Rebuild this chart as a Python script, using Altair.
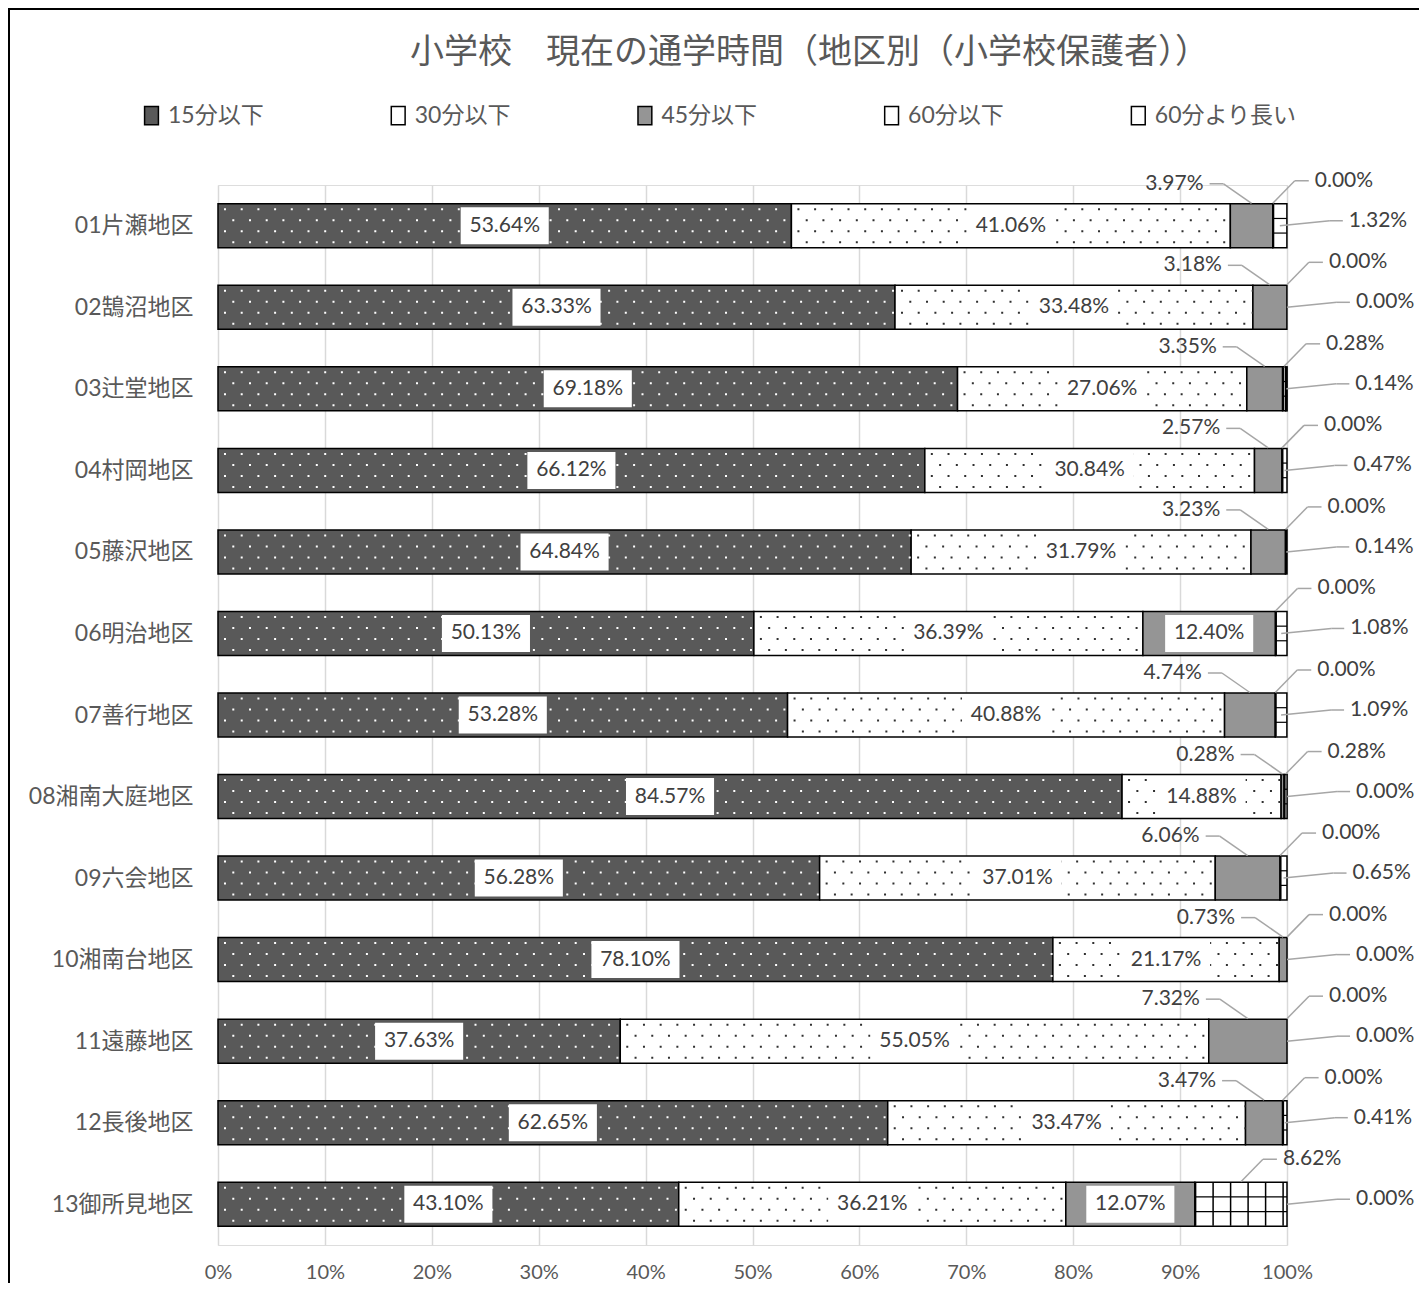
import altair as alt
import pandas as pd

districts = ["01片瀬地区", "02鵠沼地区", "03辻堂地区", "04村岡地区", "05藤沢地区", "06明治地区",
             "07善行地区", "08湘南大庭地区", "09六会地区", "10湘南台地区", "11遠藤地区", "12長後地区",
             "13御所見地区"]
categories = ["15分以下", "30分以下", "45分以下", "60分以下", "60分より長い"]
v15 = [53.64, 63.33, 69.18, 66.12, 64.84, 50.13, 53.28, 84.57, 56.28, 78.10, 37.63, 62.65, 43.10]
v30 = [41.06, 33.48, 27.06, 30.84, 31.79, 36.39, 40.88, 14.88, 37.01, 21.17, 55.05, 33.47, 36.21]
v45 = [3.97, 3.18, 3.35, 2.57, 3.23, 12.40, 4.74, 0.28, 6.06, 0.73, 7.32, 3.47, 12.07]
v60 = [0.00, 0.00, 0.28, 0.00, 0.00, 0.00, 0.00, 0.28, 0.00, 0.00, 0.00, 0.00, 8.62]
v60p = [1.32, 0.00, 0.14, 0.47, 0.14, 1.08, 1.09, 0.00, 0.65, 0.00, 0.00, 0.41, 0.00]
title_text = "小学校　現在の通学時間（地区別（小学校保護者））"

series = [v15, v30, v45, v60, v60p]
rows = []
for i, d in enumerate(districts):
    for k, c in enumerate(categories):
        rows.append({"idx": i, "district": d, "cat": c, "order": k, "value": series[k][i]})
df = pd.DataFrame(rows)

FONT = "Lato, Noto Sans CJK JP"
AXC = "#595959"
LBC = "#404040"
LEAD = "#a6a6a6"

xs = alt.Scale(domain=[0, 100], nice=False, zero=False, padding=0)
ys = alt.Scale(domain=[-0.5, 12.5], reverse=True, nice=False, zero=False, padding=0)
xaxis = alt.Axis(values=list(range(0, 101, 10)), labelExpr="datum.value + '%'", grid=True,
                 gridColor="#d9d9d9", gridWidth=1.5, domain=False, ticks=False, tickSize=0,
                 labelFontSize=20, labelFont=FONT, labelColor=AXC, labelPadding=17,
                 labelFlush=False, title=None)
names_js = "[" + ",".join("'" + d + "'" for d in districts) + "]"
yaxis = alt.Axis(values=list(range(len(districts))), labelExpr=names_js + "[datum.value]",
                 grid=False, domain=False, ticks=False, tickSize=0, labelFontSize=23,
                 labelFont=FONT, labelColor=AXC, labelPadding=25, labelFlush=False, title=None)


def X(f):
    return alt.X(f, type="quantitative", scale=xs, axis=xaxis)


def Y(f="idx"):
    return alt.Y(f, type="quantitative", scale=ys, axis=yaxis)


base = alt.Chart(df).transform_stack(
    stack="value", groupby=["idx"], sort=[alt.SortField("order", order="ascending")], as_=["x0", "x1"]
).transform_calculate(
    xc="(datum.x0 + datum.x1) / 2",
    bl="(datum.x0 + datum.x1) / 2 - 4.12",
    br="(datum.x0 + datum.x1) / 2 + 4.12",
    label="format(datum.value, '.2f') + '%'",
)

fills = ["#595959", "#ffffff", "#959595", "#ffffff", "#ffffff"]

bars = base.transform_filter("datum.value > 0").mark_bar(
    size=44, stroke="black", strokeWidth=1.5
).encode(
    x=X("x0"), x2="x1", y=Y(),
    fill=alt.Fill("cat:N", scale=alt.Scale(domain=categories, range=fills),
                  legend=alt.Legend(orient="none", legendX=-78, legendY=-81, direction="horizontal",
                                    columns=5, gridAlign="all", columnPadding=76.7, title=None,
                                    labelFontSize=23, labelFont=FONT, labelColor=AXC,
                                    symbolType="M-0.75,-1H0.75V1H-0.75Z", symbolSize=340,
                                    symbolStrokeColor="black", symbolStrokeWidth=1.5,
                                    labelOffset=5)),
)

layers = [bars]

# dotted textures
for j, off in enumerate([-16.5, -5.5, 5.5, 16.5]):
    layers.append(
        base.transform_filter("datum.order < 2 && datum.value > 0").mark_rule(
            strokeWidth=2, strokeDash=[2, 14.7], strokeDashOffset=(10.7 if j % 2 == 0 else 2.4),
            yOffset=off
        ).encode(
            x=X("x0"), x2="x1", y=Y(),
            stroke=alt.condition("datum.order == 0", alt.value("white"), alt.value("#303030")),
        )
    )

# grid textures for 60-min segments
grid_src = base.transform_filter("datum.order >= 3 && datum.value > 0")
for off in [-7.3, 7.3]:
    layers.append(grid_src.mark_rule(strokeWidth=1.2, color="black", yOffset=off).encode(
        x=X("x0"), x2="x1", y=Y()))
layers.append(grid_src.mark_rule(strokeWidth=43, color="black", strokeDash=[1.5, 16]).encode(
    x=X("x0"), x2="x1", y=Y()))

# inside label boxes & text
inside = base.transform_filter("datum.order < 2 || (datum.order == 2 && datum.value >= 10)")
layers.append(inside.mark_bar(size=37, fill="white", strokeWidth=0).encode(
    x=X("bl"), x2="br", y=Y()))
layers.append(inside.mark_text(font=FONT, fontSize=21, color=LBC, baseline="middle").encode(
    x=X("xc"), y=Y(), text="label:N"))


# outside labels with leader lines
def outside(filt, dx, dy, align, h1, h2, ty):
    src = base.transform_filter(filt)
    return [
        src.mark_rule(color=LEAD, strokeWidth=1.5, xOffset=h1, x2Offset=h2, yOffset=dy).encode(
            x=X("xc"), x2="xc", y=Y()),
        src.mark_rule(color=LEAD, strokeWidth=1.5, xOffset=h2, x2Offset=0, yOffset=dy,
                      y2Offset=ty).encode(x=X("xc"), x2="xc", y=Y(), y2="idx"),
        src.mark_text(font=FONT, fontSize=21, color=LBC, baseline="middle", align=align,
                      dx=dx, dy=dy).encode(x=X("xc"), y=Y(), text="label:N"),
    ]


layers += outside("datum.order == 2 && datum.value < 10", -48, -42, "right", -42, -28, -22.5)
layers += outside("datum.order == 3", 42, -45, "left", 36, 22, -22.5)
layers += outside("datum.order == 4", 69, -5, "left", 63, 50, 0)

frame = alt.Chart(pd.DataFrame({"a": [0]})).mark_rect(
    fill="transparent", stroke="black", strokeWidth=2
).encode(x=alt.value(-209), x2=alt.value(1300), y=alt.value(-176), y2=alt.value(1250))
layers.append(frame)

chart = alt.layer(*layers).properties(
    width=1069, height=1060,
    title=alt.TitleParams(title_text, font="Noto Sans CJK JP", fontSize=34, fontWeight="normal",
                          color=AXC, anchor="middle", dx=57, offset=-62, frame="group"),
    autosize=alt.AutoSizeParams(type="none"),
    padding={"left": 210, "top": 177, "right": 132, "bottom": 38},
).configure_view(stroke=None).configure(background="white")

chart.save("out.html", embed_options={"renderer": "svg", "actions": False})
